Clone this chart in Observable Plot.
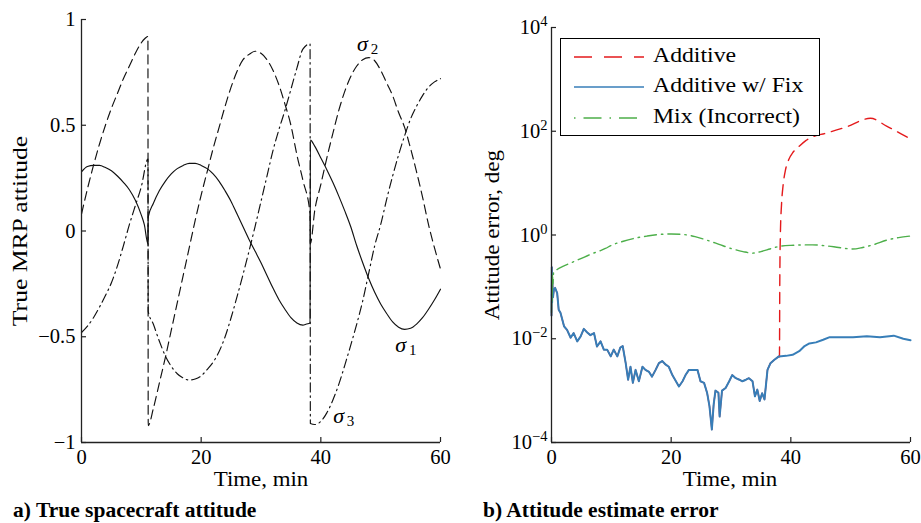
<!DOCTYPE html>
<html>
<head>
<meta charset="utf-8">
<script src="https://cdn.jsdelivr.net/npm/d3@7"></script>
<script src="https://cdn.jsdelivr.net/npm/@observablehq/plot@0.6"></script>
<style>
  html, body { margin: 0; padding: 0; background: #fff; }
  #wrap { position: relative; width: 921px; height: 523px; background: #fff; overflow: hidden;
          font-family: "Liberation Serif", "Times New Roman", "DejaVu Serif", serif; color: #000; }
  .abs { position: absolute; white-space: nowrap; line-height: 1; }
  .lbl { font-size: 21px; }
  .cap { font-size: 21.5px; font-weight: bold; }
</style>
</head>
<body>
<div id="wrap">
  <div id="left" class="abs" style="left:0;top:0"></div>
  <div id="right" class="abs" style="left:460px;top:0"></div>
  <div class="abs lbl" style="left:20px;top:231px;transform:translate(-50%,-50%) rotate(-90deg) scaleX(1.22)">True MRP attitude</div>
  <div class="abs lbl" style="left:492px;top:235px;transform:translate(-50%,-50%) rotate(-90deg) scaleX(1.1)">Attitude error, deg</div>
  <div class="abs lbl" style="left:261px;top:469px;transform:translateX(-50%) scaleX(1.09)">Time, min</div>
  <div class="abs lbl" style="left:730px;top:469px;transform:translateX(-50%) scaleX(1.09)">Time, min</div>
  <div class="abs cap" style="left:13px;top:500px">a) True spacecraft attitude</div>
  <div class="abs cap" style="left:483px;top:500px">b) Attitude estimate error</div>
  <div id="legend" class="abs" style="left:560px;top:38px;width:258px;height:96px;border:1.5px solid #000;background:#fff"></div>
</div>
<script>
// ---------- Panel a: true MRP attitude ----------
const xTicks = [0, 20, 40, 60];
const yTicksLeft = [-1, -0.5, 0, 0.5, 1];

const sigma1T = [0,1,2,3,4,5,6,7,8,9,10,10.5,11.1,
  11.15,12,13,14,15,16,17,18,19,20,21,22,23,24,25,26,27,28,29,30,31,32,33,34,35,36,37,37.6,38.2,
  38.25,39,40,41,42,43,44,45,46,47,48,49,50,51,52,53,54,55,56,57,58,59,60];
const sigma1V = [0.28,0.305,0.31,0.31,0.3,0.285,0.26,0.23,0.195,0.145,0.075,0.03,-0.06,
  0.066,0.13,0.19,0.235,0.27,0.295,0.31,0.32,0.32,0.31,0.295,0.27,0.235,0.19,0.14,0.08,0.02,-0.04,-0.095,-0.15,-0.21,-0.27,-0.325,-0.37,-0.41,-0.435,-0.445,-0.44,-0.435,
  0.43,0.4,0.345,0.29,0.23,0.165,0.095,0.02,-0.07,-0.15,-0.225,-0.29,-0.345,-0.39,-0.43,-0.455,-0.465,-0.46,-0.44,-0.41,-0.37,-0.325,-0.275];

const sigma2T = [0,1,2,3,4,5,6,7,8,9,10,10.6,11.1,
  11.15,12,13,14,15,16,17,18,19,20,21,22,23,24,25,26,27,28,29,30,31,32,33,34,35,36,37,38.2,
  38.25,39,40,41,42,43,44,45,46,47,48,49,50,51,52,53,54,55,56,57,58,59,60];
const sigma2V = [0.08,0.2,0.31,0.41,0.5,0.58,0.65,0.72,0.78,0.84,0.89,0.91,0.92,
  -0.92,-0.84,-0.72,-0.6,-0.47,-0.34,-0.21,-0.08,0.05,0.17,0.28,0.39,0.49,0.59,0.68,0.755,0.81,0.835,0.85,0.84,0.81,0.76,0.69,0.6,0.5,0.36,0.24,0.08,
  -0.06,0.1,0.22,0.345,0.46,0.57,0.66,0.73,0.78,0.81,0.82,0.805,0.76,0.7,0.64,0.56,0.49,0.39,0.28,0.16,0.03,-0.08,-0.18];

const sigma3T = [0,1,2,3,4,5,6,7,8,9,10,11.1,
  11.15,12,13,14,15,16,17,18,19,20,21,22,23,24,25,26,27,28,29,30,31,32,33,34,35,36,37,38.2,
  38.25,39,40,41,42,43,44,45,46,47,48,49,50,51,52,53,54,55,56,57,58,59,60];
const sigma3V = [-0.48,-0.45,-0.41,-0.36,-0.305,-0.245,-0.165,-0.07,0.03,0.12,0.21,0.34,
  -0.38,-0.44,-0.52,-0.59,-0.64,-0.675,-0.695,-0.705,-0.7,-0.685,-0.655,-0.62,-0.57,-0.5,-0.41,-0.31,-0.205,-0.095,0.02,0.14,0.26,0.38,0.48,0.57,0.67,0.77,0.86,0.885,
  -0.91,-0.915,-0.9,-0.86,-0.8,-0.725,-0.635,-0.54,-0.44,-0.33,-0.2,-0.07,0.03,0.15,0.26,0.36,0.45,0.53,0.59,0.64,0.68,0.705,0.72];

const sigmaNames = ["σ1", "σ2", "σ3"];
const sigmaLabelT = [54.2, 47.8, 43.8];
const sigmaLabelV = [-0.54, 0.885, -0.875];

// ---------- Panel b: attitude estimate error (deg), stored as log10 exponents ----------
const yTicksRight = [1e-4, 1e-2, 1, 1e2, 1e4];
const seriesNames = ["Additive", "Additive w/ Fix", "Mix (Incorrect)"];

const fixT = [0,0.05,0.1,0.15,0.25,0.4,0.6,0.95,1.2,1.5,2.1,2.6,3.2,3.7,4.3,4.85,5.4,5.97,6.5,7.1,7.6,8.2,8.75,9.3,9.9,10.4,11,11.5,11.9,12.4,12.8,13.2,13.6,14.05,14.6,15.2,15.7,16.3,16.8,17.4,17.95,18.5,19.1,19.6,20.2,20.7,21.3,21.9,22.4,22.97,23.5,24.4,24.9,25.5,26,26.4,26.8,27.1,27.4,27.9,28.1,28.5,29.1,29.7,30.2,30.8,31.4,31.9,32.5,33,33.6,34,34.4,34.8,35.2,35.6,36.1,36.6,37.2,38,39.2,40.3,41.4,42.3,43.1,44.2,45.4,46.5,48.2,50.4,52.7,54.9,57.2,58.8,60];
const fixE = [-1.55,-0.62,-1.3,-0.9,-1.2,-1.06,-1.02,-1.12,-1.44,-1.5,-1.76,-1.83,-1.98,-1.89,-2.05,-1.96,-1.81,-1.88,-1.93,-1.89,-2.15,-2.05,-2.21,-2.21,-2.34,-2.21,-2.34,-2.17,-2.14,-2.47,-2.79,-2.54,-2.85,-2.6,-2.82,-2.54,-2.6,-2.64,-2.73,-2.6,-2.47,-2.43,-2.5,-2.54,-2.7,-2.8,-2.92,-2.82,-2.7,-2.6,-2.6,-2.6,-2.82,-2.85,-3.04,-3.3,-3.75,-3.27,-3.0,-3.04,-3.5,-3.0,-2.95,-2.82,-2.7,-2.76,-2.79,-2.82,-2.79,-2.76,-2.82,-3.11,-2.98,-3.2,-3.05,-3.17,-2.6,-2.47,-2.41,-2.34,-2.33,-2.31,-2.24,-2.14,-2.09,-2.07,-2.02,-1.97,-1.97,-1.97,-1.95,-1.97,-1.94,-2.0,-2.03];

const additiveDivT = [38.1,38.15,38.25,38.45,38.7,39.1,39.6,40.4,41.3,42.5,43.6,45.8,49.2,53.3,56,58.9,60];
const additiveDivE = [-2.35,-1.0,0,0.6,0.95,1.25,1.44,1.6,1.7,1.82,1.89,1.96,2.08,2.25,2.1,1.92,1.85];

const mixT = [0,0.05,0.1,0.15,0.25,0.35,0.6,1,2,3,4,5,6,7,8,9,10,12,14,16,18,20,22,24,26,28,30,32,33.6,35,36.5,38,40,43.6,46,48,50.3,52,54,56,58,60];
const mixE = [-1.5,-0.8,-1.3,-0.75,-0.95,-0.72,-0.7,-0.66,-0.6,-0.55,-0.5,-0.45,-0.4,-0.35,-0.31,-0.26,-0.2,-0.12,-0.06,-0.02,0.01,0.02,0.01,-0.03,-0.1,-0.18,-0.26,-0.32,-0.35,-0.32,-0.27,-0.22,-0.2,-0.19,-0.21,-0.24,-0.27,-0.24,-0.18,-0.1,-0.05,-0.02];

// ---------- styles ----------
const sigmaDash = [null, "9,5", "9,4,1.5,4"];
const seriesColor = ["#e41a1c", "#377eb8", "#4daf4a"];
const seriesDash = ["11,7", null, "12,5,1.5,5"];
const FONT = "\"Liberation Serif\", \"Times New Roman\", \"DejaVu Serif\", serif";

const rows = (T, V, f = (v) => v) => T.map((t, i) => ({t, v: f(V[i])}));
const pow10 = (e) => Math.pow(10, e);

const s1 = rows(sigma1T, sigma1V), s2 = rows(sigma2T, sigma2V), s3 = rows(sigma3T, sigma3V);
const labels = sigmaNames.map((n, i) => ({sym: n[0], sub: n.slice(1), t: sigmaLabelT[i], v: sigmaLabelV[i]}));

const LW = 460, LH = 492, LML = 81, LMR = 20, LMT = 19, LMB = 50;
const lpw = LW - LML - LMR, lph = LH - LMT - LMB;

const leftPlot = Plot.plot({
  width: LW, height: LH, marginLeft: LML, marginRight: LMR, marginTop: LMT, marginBottom: LMB,
  x: {domain: [xTicks[0], xTicks[xTicks.length - 1]]},
  y: {domain: [yTicksLeft[0], yTicksLeft[yTicksLeft.length - 1]]},
  style: {fontFamily: FONT, fontSize: "20.5px", color: "#000", background: "transparent", overflow: "visible"},
  marks: [
    Plot.line(s1, {x: "t", y: "v", stroke: "#111", strokeWidth: 1.15, curve: "monotone-x"}),
    Plot.line(s2, {x: "t", y: "v", stroke: "#111", strokeWidth: 1.15, strokeDasharray: sigmaDash[1], curve: "monotone-x"}),
    Plot.line(s3, {x: "t", y: "v", stroke: "#111", strokeWidth: 1.15, strokeDasharray: sigmaDash[2], curve: "monotone-x"}),
    Plot.text(labels, {x: "t", y: "v", text: "sym", fontStyle: "italic", fontSize: 22, dx: -5, fill: "#000"}),
    Plot.text(labels, {x: "t", y: "v", text: "sub", fontSize: 15, dx: 7, dy: 5, fill: "#000"}),
    Plot.ruleX([xTicks[0]], {stroke: "#222", strokeWidth: 1.3}),
    Plot.ruleY([yTicksLeft[0]], {stroke: "#222", strokeWidth: 1.3}),
    Plot.tickY(yTicksLeft, {y: (d) => d, insetRight: lpw - 5, stroke: "#222", strokeWidth: 1.2}),
    Plot.tickX(xTicks, {x: (d) => d, insetTop: lph - 5, stroke: "#222", strokeWidth: 1.2}),
    Plot.axisX({ticks: xTicks, tickSize: 0, tickPadding: 7, label: null, tickFormat: (d) => String(d)}),
    Plot.axisY({ticks: yTicksLeft, tickSize: 0, tickPadding: 6, label: null,
      tickFormat: (d) => (d < 0 ? "\u2212" + Math.abs(d) : String(d))})
  ]
});
document.getElementById("left").append(leftPlot);

// ---------- right ----------
const fixRows = rows(fixT, fixE, pow10);
const addPre = fixRows.filter((d) => d.t <= 38);
const addPost = [addPre[addPre.length - 1]].concat(rows(additiveDivT, additiveDivE, pow10));
const mixRows = rows(mixT, mixE, pow10);

const RW = 461, RH = 492, RML = 91, RMR = 11, RMT = 27, RMB = 50;
const rpw = RW - RML - RMR, rph = RH - RMT - RMB;

const rightPlot = Plot.plot({
  width: RW, height: RH, marginLeft: RML, marginRight: RMR, marginTop: RMT, marginBottom: RMB,
  x: {domain: [xTicks[0], xTicks[xTicks.length - 1]]},
  y: {type: "log", domain: [yTicksRight[0], yTicksRight[yTicksRight.length - 1]]},
  style: {fontFamily: FONT, fontSize: "20.5px", color: "#000", background: "transparent", overflow: "visible"},
  marks: [
    Plot.line(addPre, {x: "t", y: "v", stroke: seriesColor[0], strokeWidth: 1.4}),
    Plot.line(addPost, {x: "t", y: "v", stroke: seriesColor[0], strokeWidth: 1.4, strokeDasharray: seriesDash[0], curve: "monotone-x"}),
    Plot.line(fixRows, {x: "t", y: "v", stroke: seriesColor[1], strokeWidth: 2}),
    Plot.line(mixRows, {x: "t", y: "v", stroke: seriesColor[2], strokeWidth: 1.4, strokeDasharray: seriesDash[2], curve: "monotone-x"}),
    Plot.ruleX([xTicks[0]], {stroke: "#222", strokeWidth: 1.3}),
    Plot.ruleY([yTicksRight[0]], {stroke: "#222", strokeWidth: 1.3}),
    Plot.tickY(yTicksRight, {y: (d) => d, insetRight: rpw - 5, stroke: "#222", strokeWidth: 1.2}),
    Plot.tickX(xTicks, {x: (d) => d, insetTop: rph - 5, stroke: "#222", strokeWidth: 1.2}),
    Plot.axisX({ticks: xTicks, tickSize: 0, tickPadding: 7, label: null, tickFormat: (d) => String(d)}),
    Plot.axisY({ticks: yTicksRight, tickSize: 0, tickPadding: 4, label: null,
      tickFormat: (d) => { const e = Math.round(Math.log10(d)); return "10^" + (e < 0 ? "\u2212" + (-e) : e); }})
  ]
});
document.getElementById("right").append(rightPlot);

// superscripts on log tick labels
const NS = "http://www.w3.org/2000/svg";
rightPlot.querySelectorAll("text").forEach((t) => {
  const s = t.textContent;
  if (!s.includes("^")) return;
  const [b, e] = s.split("^");
  t.textContent = "";
  const a = document.createElementNS(NS, "tspan"); a.textContent = b;
  const c = document.createElementNS(NS, "tspan"); c.textContent = e;
  c.setAttribute("dy", "-8"); c.setAttribute("font-size", "14.5px");
  t.append(a, c);
});

// legend (inside panel b)
const legend = document.getElementById("legend");
const rowY = [17.5, 48, 78.5];
seriesNames.forEach((name, i) => {
  const svg = document.createElementNS(NS, "svg");
  svg.setAttribute("width", 70); svg.setAttribute("height", 6);
  svg.style.position = "absolute"; svg.style.left = "13px"; svg.style.top = (rowY[i] - 3) + "px";
  const ln = document.createElementNS(NS, "line");
  ln.setAttribute("x1", 0); ln.setAttribute("x2", 70); ln.setAttribute("y1", 3); ln.setAttribute("y2", 3);
  ln.setAttribute("stroke", seriesColor[i]); ln.setAttribute("stroke-width", i === 1 ? 1.7 : 1.4);
  if (seriesDash[i]) ln.setAttribute("stroke-dasharray", i === 2 ? "1.5,8,18,8" : "18,12");
  svg.append(ln);
  legend.append(svg);
  const tx = document.createElement("div");
  tx.className = "abs lbl";
  tx.textContent = name;
  tx.style.left = "92px"; tx.style.top = (rowY[i] - 11.6) + "px";
  tx.style.transformOrigin = "left center"; tx.style.transform = "scaleX(1.13)";
  legend.append(tx);
});
</script>
</body>
</html>
